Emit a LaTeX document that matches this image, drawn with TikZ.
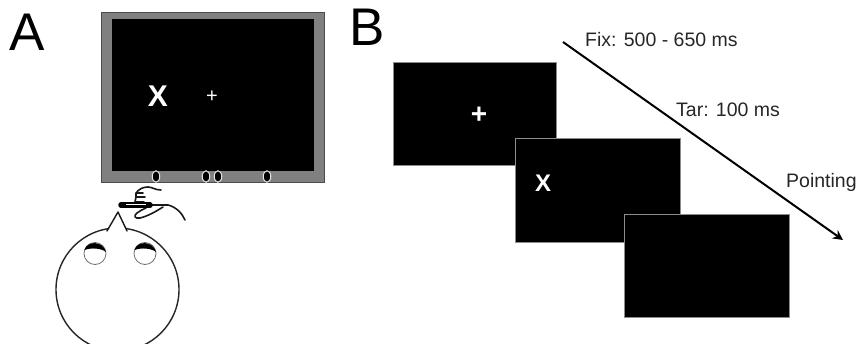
\documentclass[tikz,border=0pt]{standalone}
\usepackage{fontspec}
\setmainfont{Liberation Sans}
\usepackage{xcolor}
\usepackage{tikz}
\usetikzlibrary{arrows.meta,positioning,calc,shapes.geometric}
\definecolor{framegray}{HTML}{808080}
\definecolor{edgegray}{HTML}{8C8C8C}
\definecolor{labelgray}{HTML}{262626}

\begin{document}
\begin{tikzpicture}[
  x=1pt,y=-1pt,
  panel/.style={font=\fontsize{53}{53}\selectfont,color=black,inner sep=0pt,anchor=base west},
  screen/.style={draw=edgegray,fill=black,line width=0.8pt,anchor=north west,inner sep=0pt,
                 minimum width=163pt,minimum height=103pt},
  timing/.style={font=\fontsize{19.5}{19.5}\selectfont,color=labelgray,inner sep=0pt,anchor=base west},
  key/.style={draw=white!90!black,fill=black,ellipse,line width=1pt,inner sep=0pt,
              minimum width=7.5pt,minimum height=11.5pt},
  stim/.style={color=white,inner sep=0pt},
  arr/.style={-{Stealth[length=10pt,width=10pt]},line width=2pt,color=black},
  ink/.style={line width=1.6pt,color=black!90,line cap=round,line join=round},
]
  \useasboundingbox (0,0) rectangle (858,344);

  % Panel letters
  \node[panel] (lettera) at (9,51) {A};
  \node[panel] (letterb) at (349,46) {B};

  % Monitor with the response keys
  \node[draw=black!70,fill=framegray,line width=0.6pt,anchor=north west,inner sep=0pt,
        minimum width=223pt,minimum height=170pt] (monitor) at (101,12) {};
  \node[fill=black,anchor=north west,inner sep=0pt,
        minimum width=202pt,minimum height=152pt] (display) at (112,19) {};
  \node[stim,font=\bfseries\fontsize{30}{30}\selectfont] (target) at (158,96) {X};
  \node[stim,font=\fontsize{20}{20}\selectfont] (fixation) at (212,97) {+};
  \foreach \name/\xpos in {keya/156,keyb/206,keyc/218,keyd/267}
    \node[key] (\name) at (\xpos,176.5) {};

  % Head seen from above
  \begin{scope}
    \clip (0,0) rectangle (858,344);
    \node[draw=black!85,fill=white,circle,line width=1.4pt,inner sep=0pt,minimum size=123pt] (head) at (117.5,289.5) {};
    \draw[ink,fill=white,line width=1.4pt] (107,231) -- (118,212) -- (127,231);
  \end{scope}

  % Eyes
  \foreach \name/\xpos in {eyea/95,eyeb/145} {
    \node[draw=black!55,fill=white,circle,line width=0.8pt,inner sep=0pt,minimum size=22pt] (\name) at (\xpos,253.5) {};
    \fill[black] (\xpos-10.5,250) .. controls (\xpos-8,240.5) and (\xpos+8,240.5) .. (\xpos+11,252)
      .. controls (\xpos+6,248) and (\xpos-4,247.5) .. cycle;
  }

  % Pointing hand
  \draw[ink] (161,190) .. controls (155,190) and (152,187) .. (148,187) .. controls (143,187) and (139,189) .. (136,193)
    -- (143,193) (136,193) -- (136,197) -- (145,197) (136,197) -- (135,202) -- (144,202) (135,202) -- (134,204);
  \draw[ink] (150,205) -- (168,205) .. controls (176,207) and (182,213) .. (185,220);
  \draw[ink] (163,207) .. controls (155,212) and (148,216) .. (140,218) .. controls (135,219) and (133,216) .. (137,213)
    .. controls (140,211) and (143,209) .. (146,208);
  \draw[black,line width=5.5pt,line cap=round] (121,205) -- (150,205);
  \draw[white,line width=1.2pt] (126,204.5) -- (146,204.5);

  % Stimulus sequence
  \node[screen] (fixscreen) at (393,62) {};
  \node[screen,minimum width=165pt,minimum height=104pt] (tarscreen) at (515,138) {};
  \node[screen,minimum width=165pt] (pointscreen) at (624,214) {};
  \node[stim,font=\bfseries\fontsize{28}{28}\selectfont] (fixcross) at (479,115) {+};
  \node[stim,font=\bfseries\fontsize{24}{24}\selectfont] (tarcross) at (543,183) {X};

  % Time axis
  \coordinate (tstart) at (563,42);
  \coordinate (tend) at (843,240);
  \draw[arr] (tstart) -- (tend);
  \node[timing] (fixlabel) at (585,46.5) {Fix: 500 - 650 ms};
  \node[timing] (tarlabel) at (676,117) {Tar: 100 ms};
  \node[timing] (pointlabel) at (786,188) {Pointing};
\end{tikzpicture}
\end{document}
